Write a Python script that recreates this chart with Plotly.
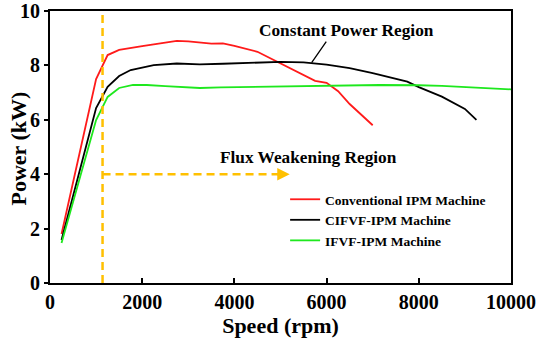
import plotly.graph_objects as go

# ---- data ----
speed_conv = [250, 1000, 1250, 1500, 2000, 2500, 2750, 3000, 3500, 3750, 4000, 4500, 5000, 5500, 5750, 6000, 6250, 6500, 7000]
power_conv = [1.80, 7.50, 8.38, 8.57, 8.71, 8.84, 8.90, 8.88, 8.80, 8.81, 8.72, 8.50, 8.08, 7.65, 7.43, 7.36, 7.05, 6.58, 5.80]

speed_cifvf = [250, 1000, 1250, 1500, 1750, 2250, 2750, 3250, 3750, 4500, 5000, 5500, 6000, 6500, 7000, 7750, 8000, 8500, 9000, 9250]
power_cifvf = [1.58, 6.43, 7.21, 7.61, 7.83, 8.01, 8.07, 8.04, 8.06, 8.10, 8.13, 8.11, 8.03, 7.90, 7.72, 7.40, 7.20, 6.85, 6.40, 6.00]

speed_ifvf = [250, 1000, 1250, 1500, 1800, 2100, 2500, 3250, 3700, 5000, 6000, 7150, 8000, 8500, 10000]
power_ifvf = [1.47, 5.99, 6.84, 7.17, 7.28, 7.28, 7.24, 7.17, 7.19, 7.22, 7.24, 7.28, 7.27, 7.25, 7.12]

series_names = ["Conventional IPM Machine", "CIFVF-IPM Machine", "IFVF-IPM Machine"]
series_colors = ["#FF1A1A", "#000000", "#1EE81E"]

fw_speed = 1140          # start of flux weakening (vertical guide)
fw_power = 4.0           # level of the horizontal arrow
fw_arrow_end = 5200      # arrow tip speed
cp_tip = (5676, 8.10)    # point the "Constant Power Region" label points at
cp_tail = (6015, 8.93)

x_ticks = [0, 2000, 4000, 6000, 8000, 10000]
y_ticks = [0, 2, 4, 6, 8, 10]

ORANGE = "#FFC000"
FONT = "Liberation Serif"

fig = go.Figure()
for xs, ys, name, col in zip([speed_conv, speed_cifvf, speed_ifvf],
                             [power_conv, power_cifvf, power_ifvf],
                             series_names, series_colors):
    fig.add_trace(go.Scatter(x=xs, y=ys, mode="lines", name=name,
                             line=dict(color=col, width=1.8)))

# guides
fig.add_trace(go.Scatter(x=[fw_speed, fw_speed], y=[0, 10], mode="lines", showlegend=False,
                         line=dict(color=ORANGE, width=2.5, dash="8px,5px"), hoverinfo="skip"))
fig.add_trace(go.Scatter(x=[fw_speed, fw_arrow_end - 250], y=[fw_power, fw_power], mode="lines", showlegend=False,
                         line=dict(color=ORANGE, width=2.5, dash="8px,5px"), hoverinfo="skip"))

fig.add_annotation(x=fw_arrow_end, y=fw_power, ax=fw_arrow_end - 300, ay=fw_power,
                   xref="x", yref="y", axref="x", ayref="y", text="", showarrow=True,
                   arrowhead=2, arrowsize=1, arrowwidth=2.5, arrowcolor=ORANGE)

fig.add_annotation(x=cp_tip[0], y=cp_tip[1], ax=cp_tail[0], ay=cp_tail[1],
                   xref="x", yref="y", axref="x", ayref="y", text="", showarrow=True,
                   arrowhead=0, arrowwidth=1.3, arrowcolor="black")

fig.add_annotation(x=6440, y=9.30, xref="x", yref="y", text="Constant Power Region", showarrow=False,
                   font=dict(family=FONT, size=17.3, color="black", weight="bold"))
fig.add_annotation(x=5618, y=4.60, xref="x", yref="y", text="Flux Weakening Region", showarrow=False,
                   font=dict(family=FONT, size=17.3, color="black", weight="bold"))

axis_font = dict(family=FONT, size=20, color="black", weight="bold")
title_font = dict(family=FONT, size=22, color="black", weight="bold")

# y-axis title placed as a rotated paper annotation for exact position
fig.add_annotation(x=-0.068, y=0.493, xref="paper", yref="paper", text="Power (kW)",
                   textangle=-90, showarrow=False, xanchor="center", yanchor="middle",
                   font=title_font)

fig.update_xaxes(range=[0, 10000], tickvals=x_ticks, ticktext=[str(v) for v in x_ticks],
                 ticks="inside", ticklen=5, tickwidth=1.5, tickcolor="black",
                 showline=True, linecolor="black", linewidth=2, mirror=True,
                 showgrid=False, zeroline=False, tickfont=axis_font,
                 title=dict(text="Speed (rpm)", font=title_font, standoff=4), automargin=False)
fig.update_yaxes(range=[0, 10], tickvals=y_ticks, ticktext=[str(v) for v in y_ticks],
                 ticks="outside", ticklen=4, tickwidth=1.5, tickcolor="black",
                 showline=True, linecolor="black", linewidth=2, mirror=True,
                 showgrid=False, zeroline=False, tickfont=axis_font, automargin=False)

fig.update_layout(
    width=538, height=341,
    margin=dict(l=50, r=27, t=11, b=58),
    paper_bgcolor="white", plot_bgcolor="white",
    showlegend=True,
    legend=dict(x=0.51, y=0.364, xanchor="left", yanchor="top",
                bgcolor="rgba(0,0,0,0)", borderwidth=0,
                font=dict(family=FONT, size=13.5, color="black", weight="bold"),
                tracegroupgap=0),
)

# remove the default 8px page margin so the figure fills the window exactly
fig.write_html("out.html", config={"displayModeBar": False},
               post_script="document.body.style.margin='0';document.body.style.overflow='hidden';")
